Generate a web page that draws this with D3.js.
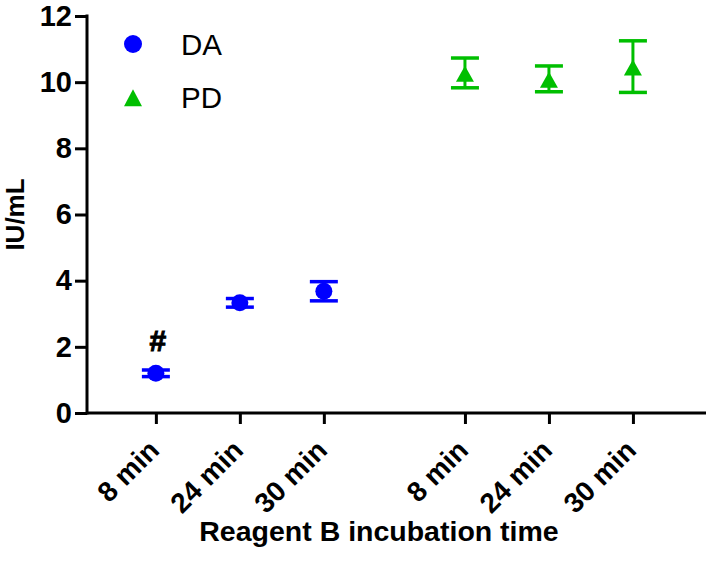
<!DOCTYPE html>
<html>
<head>
<meta charset="utf-8">
<script src="https://cdn.jsdelivr.net/npm/d3@7"></script>
<style>
  html, body { margin: 0; padding: 0; background: #fff; }
  svg { display: block; font-family: "Liberation Sans", Arial, sans-serif; }
</style>
</head>
<body>
<svg id="chart" width="709" height="570"></svg>
<script>
// ---- data ----
const categories = ["8 min", "24 min", "30 min"];
const seriesNames = ["DA", "PD"];
const daMean = [1.2, 3.33, 3.68];
const daErr  = [0.1, 0.13, 0.29];
const pdMean = [10.28, 10.1, 10.47];
const pdErr  = [0.45, 0.39, 0.78];
const yTicks = [0, 2, 4, 6, 8, 10, 12];
const yLabel = "IU/mL";
const xLabel = "Reagent B incubation time";
const annotation = "#";

// ---- layout ----
const svg = d3.select("#chart");
const groupGap = 3.68;           // position offset of second group
const colors = { DA: "#0000FF", PD: "#00BF00" };

const x = d3.scaleLinear().domain([-0.82, 6.55]).range([87, 706]);
const y = d3.scaleLinear().domain([0, 12]).range([413, 16]);

const points = [];
categories.forEach((c, i) => {
  points.push({ series: "DA", cat: c, pos: i, mean: daMean[i], err: daErr[i] });
});
categories.forEach((c, i) => {
  points.push({ series: "PD", cat: c, pos: i + groupGap, mean: pdMean[i], err: pdErr[i] });
});

// ---- axes ----
const yAxis = d3.axisLeft(y).tickValues(yTicks).tickSize(12).tickPadding(3).tickFormat(d3.format("d"));
const gy = svg.append("g").attr("transform", `translate(${x.range()[0]},0)`).call(yAxis);
gy.select(".domain").attr("d", `M-0,${y(12)}V${y(0)}`);
gy.selectAll("path,line").attr("stroke", "#000").attr("stroke-width", 3);
gy.select(".domain").attr("stroke-linecap", "square");
gy.selectAll("text").attr("font-size", 29).attr("font-weight", "bold").attr("fill", "#000")
  .attr("font-family", "Liberation Sans, Arial, sans-serif");

const xAxis = d3.axisBottom(x).tickValues(points.map(p => p.pos)).tickSize(11)
  .tickFormat((d, i) => points[i].cat);
const gx = svg.append("g").attr("transform", `translate(0,${y(0)})`).call(xAxis);
gx.select(".domain").attr("d", `M${x.range()[0]},0H${x.range()[1]}`);
gx.selectAll("path,line").attr("stroke", "#000").attr("stroke-width", 3);
gx.selectAll("text")
  .attr("font-size", 28).attr("font-weight", "bold").attr("fill", "#000")
  .attr("font-family", "Liberation Sans, Arial, sans-serif")
  .attr("text-anchor", "end")
  .attr("y", 0)
  .attr("dy", "0.35em")
  .attr("transform", "translate(-2.5,32) rotate(-45)");

// axis titles
svg.append("text")
  .attr("x", 379).attr("y", 541)
  .attr("text-anchor", "middle")
  .attr("font-size", 28.5).attr("font-weight", "bold")
  .text(xLabel);

svg.append("text")
  .attr("transform", `translate(24,${(y(0) + y(12)) / 2}) rotate(-90)`)
  .attr("text-anchor", "middle")
  .attr("font-size", 26).attr("font-weight", "bold")
  .text(yLabel);

// ---- error bars ----
const capW = 28;
const eb = svg.append("g");
points.forEach(p => {
  const g = eb.append("g").attr("stroke", colors[p.series]);
  g.append("line")
    .attr("x1", x(p.pos)).attr("x2", x(p.pos))
    .attr("y1", y(p.mean - p.err)).attr("y2", y(p.mean + p.err))
    .attr("stroke-width", 3);
  [p.mean - p.err, p.mean + p.err].forEach(v => {
    g.append("line")
      .attr("x1", x(p.pos) - capW / 2).attr("x2", x(p.pos) + capW / 2)
      .attr("y1", y(v)).attr("y2", y(v))
      .attr("stroke-width", 3.5);
  });
});

// ---- markers ----
function trianglePath(cx, cy, w, h) {
  return `M${cx},${cy - h * 0.45}L${cx + w / 2},${cy + h * 0.55}L${cx - w / 2},${cy + h * 0.55}Z`;
}
const mk = svg.append("g");
points.forEach(p => {
  if (p.series === "DA") {
    mk.append("circle").attr("cx", x(p.pos)).attr("cy", y(p.mean)).attr("r", 8.5)
      .attr("fill", colors.DA);
  } else {
    mk.append("path").attr("d", trianglePath(x(p.pos), y(p.mean), 18, 16))
      .attr("fill", colors.PD);
  }
});

// annotation
svg.append("text")
  .attr("x", x(points[0].pos) + 2).attr("y", 351)
  .attr("text-anchor", "middle")
  .attr("font-size", 30).attr("font-weight", "bold")
  .attr("stroke", "#000").attr("stroke-width", 1)
  .text(annotation);

// ---- legend ----
const lg = svg.append("g");
seriesNames.forEach((s, i) => {
  const cy = 44 + i * 53;
  if (s === "DA") {
    lg.append("circle").attr("cx", 133).attr("cy", cy).attr("r", 9).attr("fill", colors.DA);
  } else {
    lg.append("path").attr("d", trianglePath(133, cy, 18, 17)).attr("fill", colors.PD);
  }
  lg.append("text").attr("x", 181).attr("y", cy + 10.5)
    .attr("font-size", 29.5).text(s);
});
</script>
</body>
</html>
